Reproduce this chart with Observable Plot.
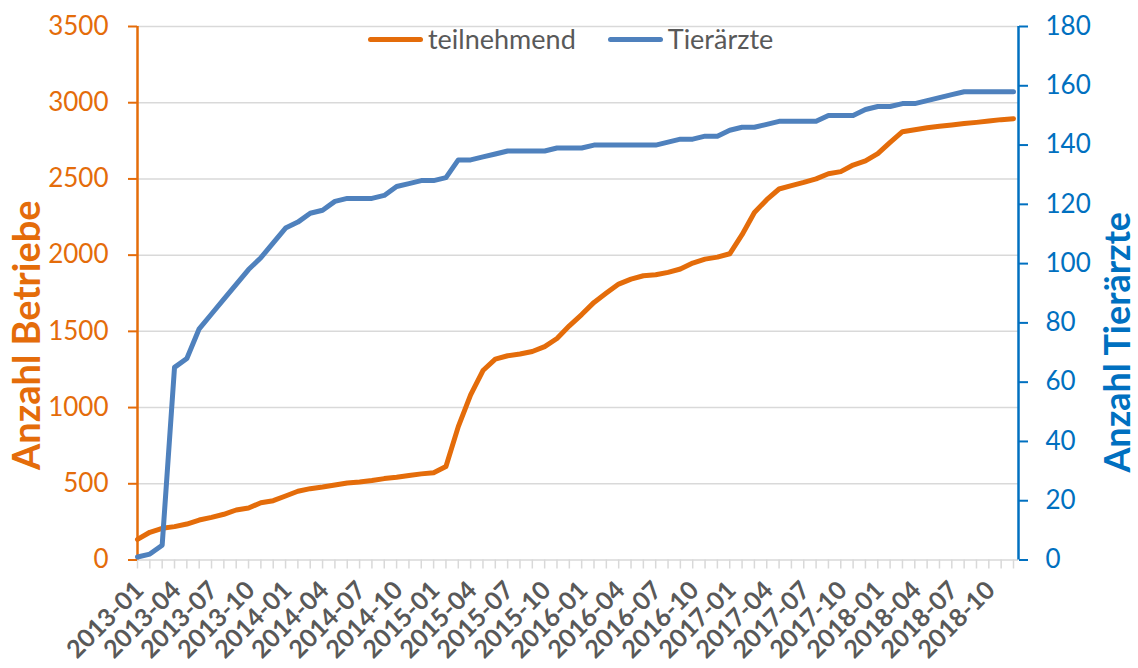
<!DOCTYPE html>
<html>
<head>
<meta charset="utf-8">
<script src="https://cdn.jsdelivr.net/npm/d3@7"></script>
<script src="https://cdn.jsdelivr.net/npm/@observablehq/plot@0.6"></script>
<style>
  body { margin: 0; background: #fff; }
  #wrap { position: relative; width: 1138px; height: 668px; font-family: Lato, sans-serif; overflow: hidden; }
  #legend { position: absolute; top: 22px; left: 368px; display: flex; align-items: center; font-size: 27px; color: #595959; line-height: 34px; }
  .item { display: flex; align-items: center; }
  .sw { width: 55px; height: 5px; border-radius: 3px; margin-right: 5px; }
</style>
</head>
<body>
<div id="wrap"><div id="chart"></div><div id="legend"></div></div>
<script>
const orange = "#E46C0A";
const blue = "#4F81BD";
const axisBlue = "#0070C0";

const years = [2013, 2014, 2015, 2016, 2017, 2018];
const monthNums = ["01","02","03","04","05","06","07","08","09","10","11","12"];
const months = years.flatMap(y => monthNums.map(m => `${y}-${m}`));

const tickLabels = ["2013-01","2013-04","2013-07","2013-10","2014-01","2014-04","2014-07","2014-10",
  "2015-01","2015-04","2015-07","2015-10","2016-01","2016-04","2016-07","2016-10",
  "2017-01","2017-04","2017-07","2017-10","2018-01","2018-04","2018-07","2018-10"];

const leftTicks = [0, 500, 1000, 1500, 2000, 2500, 3000, 3500];
const rightTicks = [0, 20, 40, 60, 80, 100, 120, 140, 160, 180];

const seriesNames = ["teilnehmend", "Tierärzte"];

// Anzahl Betriebe (teilnehmend), linke Achse
const teilnehmend = [135,182,208,219,236,262,280,300,328,341,376,389,
  420,451,468,479,492,505,512,521,534,543,554,565,
  573,613,875,1083,1243,1318,1340,1351,1368,1400,1453,1536,
  1610,1690,1751,1810,1843,1865,1871,1887,1909,1948,1974,1987,
  2009,2134,2280,2364,2434,2456,2477,2500,2534,2548,2591,2618,
  2666,2740,2810,2823,2836,2845,2854,2863,2871,2880,2889,2895];

// Anzahl Tierärzte, rechte Achse
const tieraerzte = [1,2,5,65,68,78,83,88,93,98,102,107,
  112,114,117,118,121,122,122,122,123,126,127,128,
  128,129,135,135,136,137,138,138,138,138,139,139,
  139,140,140,140,140,140,140,141,142,142,143,143,
  145,146,146,147,148,148,148,148,150,150,150,152,
  153,153,154,154,155,156,157,158,158,158,158,158];

const ratio = 3500 / 180;
const data = months.map((m, i) => ({month: m, betriebe: teilnehmend[i], tieraerzte: tieraerzte[i]}));

const chart = Plot.plot({
  width: 1138,
  height: 668,
  marginLeft: 137,
  marginRight: 120,
  marginTop: 26,
  marginBottom: 108.5,
  x: {type: "point", domain: months, padding: 0, round: false, insetRight: 5},
  y: {domain: [0, 3500]},
  style: {fontFamily: "Lato, sans-serif", background: "transparent", overflow: "visible"},
  marks: [
    Plot.ruleY(leftTicks, {stroke: "#D9D9D9", strokeWidth: 1.5}),
    Plot.axisX(months, {tickSize: 9, tickFormat: () => "", stroke: "#D9D9D9", strokeWidth: 1.5, label: null}),
    Plot.axisX(tickLabels, {tickSize: 0, tickPadding: 26, tickRotate: -45, dx: 2, fontSize: 25, fontWeight: "bold", fill: "#595959", label: null}),
    Plot.axisY(leftTicks, {anchor: "left", tickSize: 9, tickPadding: 20, tickFormat: d => String(d), stroke: orange, strokeWidth: 2, fill: orange, fontSize: 26, label: null}),
    Plot.axisY(rightTicks.map(v => v * ratio), {anchor: "right", tickSize: 9, tickPadding: 18, tickFormat: d => String(Math.round(d / ratio)), stroke: axisBlue, strokeWidth: 2, fill: axisBlue, fontSize: 26, label: null}),
    Plot.ruleX([months[0]], {y1: 0, y2: 3500, stroke: orange, strokeWidth: 2.5}),
    Plot.ruleX([months[months.length - 1]], {y1: 0, y2: 3500, dx: 5, stroke: axisBlue, strokeWidth: 2.5}),
    Plot.line(data, {x: "month", y: "betriebe", stroke: orange, strokeWidth: 5}),
    Plot.line(data, {x: "month", y: d => d.tieraerzte * ratio, stroke: blue, strokeWidth: 5}),
    Plot.text(["Anzahl Betriebe"], {frameAnchor: "left", textAnchor: "middle", rotate: -90, dx: -110, dy: 42, fontSize: 38, fontWeight: "bold", fill: orange}),
    Plot.text(["Anzahl Tierärzte"], {frameAnchor: "right", textAnchor: "middle", rotate: -90, dx: 100, dy: 49, fontSize: 36, fontWeight: "bold", fill: axisBlue})
  ]
});
document.getElementById("chart").appendChild(chart);

const legend = document.getElementById("legend");
const colors = [orange, blue];
seriesNames.forEach((name, i) => {
  const item = document.createElement("div");
  item.className = "item";
  if (i > 0) item.style.marginLeft = "32px";
  const sw = document.createElement("div");
  sw.className = "sw";
  sw.style.background = colors[i];
  const t = document.createElement("span");
  t.textContent = name;
  item.appendChild(sw);
  item.appendChild(t);
  legend.appendChild(item);
});
</script>
</body>
</html>
